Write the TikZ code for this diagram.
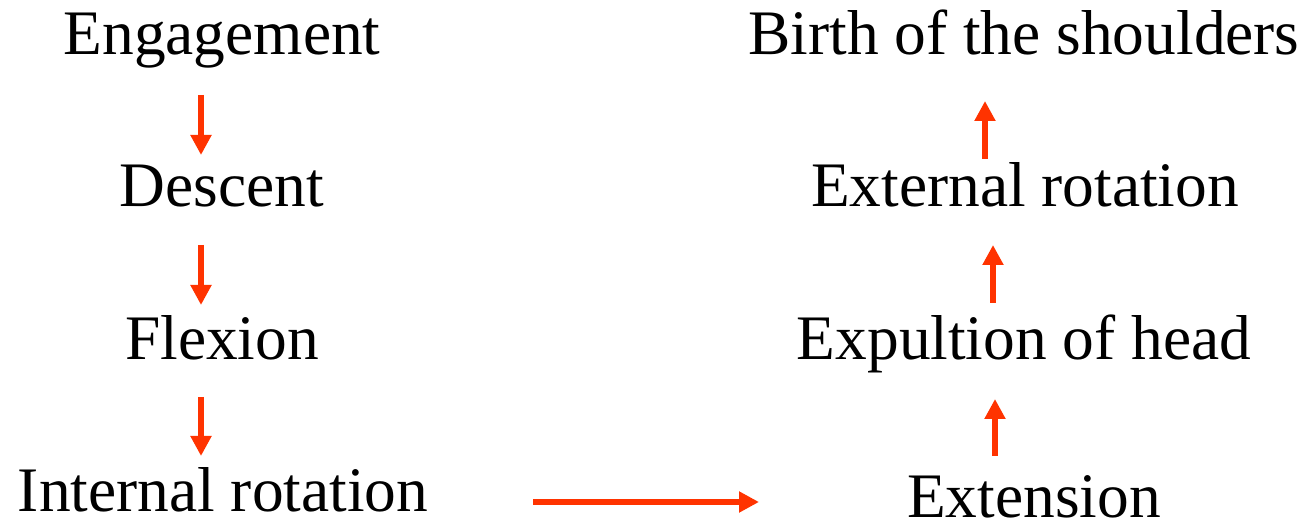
\documentclass[tikz,border=0pt]{standalone}
\usepackage{fontspec}
\setmainfont{Liberation Serif}
\usetikzlibrary{arrows.meta}
\definecolor{arrowred}{HTML}{FF3300}

\begin{document}
\begin{tikzpicture}[x=0.5pt,y=-0.5pt,
    stage/.style={anchor=base,inner sep=0pt,font=\fontsize{31.7}{38}\selectfont},
    flow/.style={arrowred,line width=3.3pt,-{Triangle[width=10pt,length=10pt]}}]
  \useasboundingbox (0,0) rectangle (1307,523);
  % left column
  \node[stage] (engage) at (222,55) {Engagement};
  \node[stage] (descent) at (222,207) {Descent};
  \node[stage] (flexion) at (222,360) {Flexion};
  \node[stage] (introt) at (223,512) {Internal rotation};
  % right column
  \node[stage] (birth) at (1024,55) {Birth of the shoulders};
  \node[stage] (extrot) at (1025,207) {External rotation};
  \node[stage] (expul) at (1024,360) {Expultion of head};
  \node[stage] (extens) at (1034,517) {Extension};
  % arrow ends
  \coordinate (a1) at (201,95);  \coordinate (b1) at (201,155);
  \coordinate (a2) at (201,245); \coordinate (b2) at (201,305);
  \coordinate (a3) at (201,397); \coordinate (b3) at (201,456);
  \coordinate (a4) at (533,502); \coordinate (b4) at (759,502);
  \coordinate (a5) at (995,456); \coordinate (b5) at (995,399);
  \coordinate (a6) at (993,303); \coordinate (b6) at (993,245);
  \coordinate (a7) at (985,159); \coordinate (b7) at (985,101);
  \foreach \i in {1,...,7}
    \draw[flow] (a\i) -- (b\i);
\end{tikzpicture}
\end{document}
